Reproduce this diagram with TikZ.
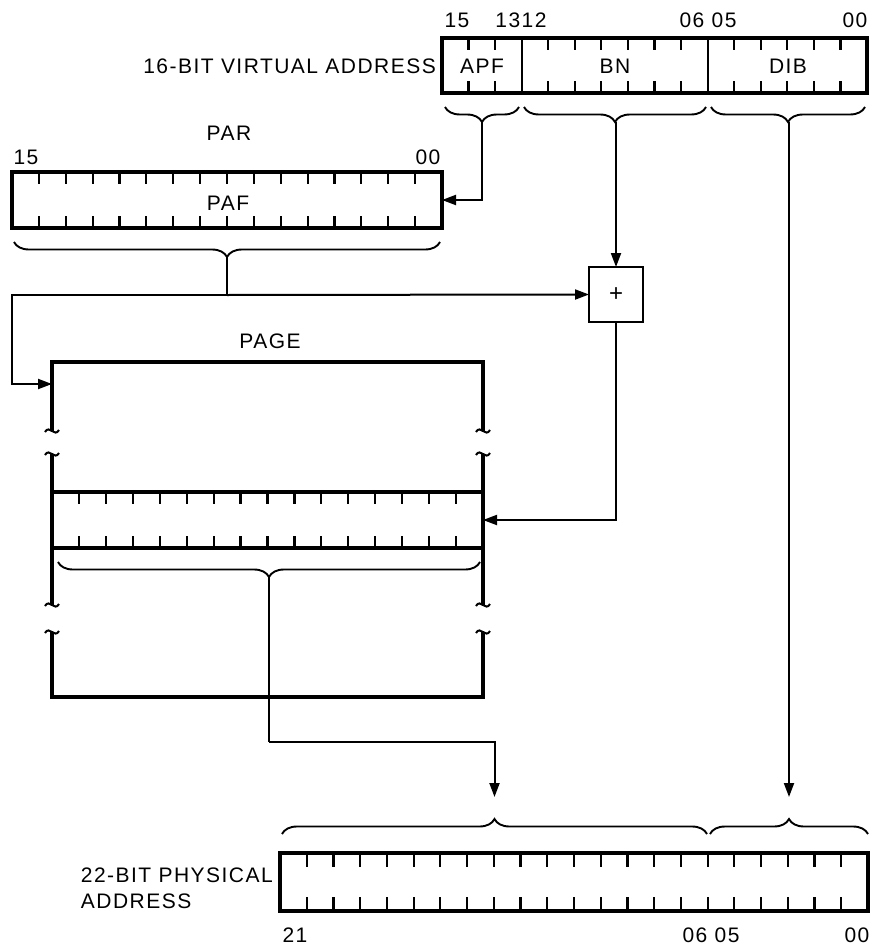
\documentclass[tikz,border=0pt]{standalone}
\usepackage{fontspec}
\setmainfont[LetterSpace=7]{Liberation Sans}
\usetikzlibrary{arrows.meta,decorations.pathreplacing,calc}
\begin{document}
\begin{tikzpicture}[x=1pt,y=1pt]
\tikzset{
 regbox/.style={draw, line width=3.2pt, inner sep=0pt, outer sep=0pt},
 tickln/.style={line width=2.2pt},
 pgline/.style={line width=3.2pt},
 conn/.style={line width=2pt},
 arr/.style={conn, -{Triangle[length=14pt,width=10pt]}},
 brc/.style={line width=1.9pt, decorate, decoration={brace, amplitude=15pt}},
 lbl/.style={font=\fontsize{21}{23}\selectfont, inner sep=0pt},
 tld/.style={line width=2pt},
}
\newcommand\mytilde[2]{\draw[tld] (#1-7,#2-1) .. controls (#1-2.5,#2+7) and (#1+2.5,#2-7) .. (#1+7,#2+1);}
\useasboundingbox (0,0) rectangle (877,-950);

% ---------- top register: 16-bit virtual address
\node[regbox, minimum width=425pt, minimum height=55pt] (va) at (654.5,-65.5) {};
\foreach \i in {1,...,15}{
  \ifnum\i=3\relax
    \draw[tickln] ($(va.north west)+(\i*26.5625,0)$) -- ($(va.south west)+(\i*26.5625,0)$);
  \else\ifnum\i=10\relax
    \draw[tickln] ($(va.north west)+(\i*26.5625,0)$) -- ($(va.south west)+(\i*26.5625,0)$);
  \else
    \draw[tickln] ($(va.north west)+(\i*26.5625,0)$) -- ++(0,-12);
    \draw[tickln] ($(va.south west)+(\i*26.5625,0)$) -- ++(0,12);
  \fi\fi
}
\node[lbl] (apf) at (482,-66) {APF};
\node[lbl] (bn) at (615,-66) {BN};
\node[lbl] (dib) at (788,-66) {DIB};
\node[lbl, anchor=east] (valbl) at (436,-66) {16-BIT VIRTUAL ADDRESS};
\node[lbl] (v15) at (457,-20) {15};
\node[lbl] (v1312) at (521,-20) {1312};
\node[lbl] (v0605) at (708,-20) {06 05};
\node[lbl] (v00) at (855,-20) {00};

% braces under virtual address
\draw[brc] (519,-107) -- (445,-107);
\draw[brc] (706,-107) -- (524,-107);
\draw[brc] (865,-107) -- (711,-107);
\coordinate (apftip) at (482,-122);
\coordinate (bntip) at (616,-122);
\coordinate (dibtip) at (789,-122);

% ---------- PAR
\node[regbox, minimum width=430pt, minimum height=56pt] (par) at (227,-200) {};
\foreach \i in {1,...,15}{
  \draw[tickln] ($(par.north west)+(\i*26.875,0)$) -- ++(0,-12);
  \draw[tickln] ($(par.south west)+(\i*26.875,0)$) -- ++(0,12);
}
\node[lbl] (paf) at (228,-203) {PAF};
\node[lbl] (parlbl) at (229,-133) {PAR};
\node[lbl] (p15) at (26,-157) {15};
\node[lbl] (p00) at (428,-157) {00};
\draw[brc] (440,-242) -- (14,-242);
\coordinate (partip) at (227,-257);

% ---------- adder
\node[regbox, line width=2.8pt, minimum width=54pt, minimum height=55pt] (plus) at (616,-294.5) {\fontsize{24}{24}\selectfont +};

% ---------- PAGE
\node[lbl] (pagelbl) at (270,-341) {PAGE};
\draw[pgline] (52,-431) -- (52,-362) -- (483,-362) -- (483,-431);
\draw[pgline] (52,-454) -- (52,-605);
\draw[pgline] (483,-454) -- (483,-605);
\draw[pgline] (52,-632) -- (52,-697) -- (483,-697) -- (483,-632);
\foreach \px/\py in {52/-431,483/-431,52/-454,483/-454,52/-605,483/-605,52/-632,483/-632}{
  \mytilde{\px}{\py}
}
\node[regbox, minimum width=431pt, minimum height=56pt] (row) at (267.5,-520) {};
\foreach \i in {1,...,15}{
  \draw[tickln] ($(row.north west)+(\i*26.9375,0)$) -- ++(0,-12);
  \draw[tickln] ($(row.south west)+(\i*26.9375,0)$) -- ++(0,12);
}
\draw[brc] (480,-562) -- (58,-562);
\coordinate (pgtip) at (269,-577);

% ---------- physical address
\node[regbox, minimum width=588pt, minimum height=58pt] (pa) at (574,-882) {};
\foreach \i in {1,...,21}{
  \draw[tickln] ($(pa.north west)+(\i*26.7273,0)$) -- ++(0,-14);
  \draw[tickln] ($(pa.south west)+(\i*26.7273,0)$) -- ++(0,14);
}
\node[lbl, anchor=east] (phys) at (273,-875) {22-BIT PHYSICAL};
\node[lbl, anchor=west] (addr) at (phys.west |- 0,-901) {ADDRESS};
\node[lbl] (b21) at (295,-935) {21};
\node[lbl] (b0605) at (711,-935) {06 05};
\node[lbl] (b00) at (857,-935) {00};
\draw[brc] (282,-834) -- (707,-834);
\draw[brc] (710,-834) -- (868,-834);
\coordinate (physL) at (494.5,-797);
\coordinate (physR) at (789,-797);

% ---------- connectors
\coordinate (junc) at (227,-295);
\coordinate (lft) at (12,-384);
\coordinate (pageL) at (52,-384);
\coordinate (bend) at (269,-742);
\draw[arr] (apftip) |- (par.east);
\draw[arr] (bntip) -- (plus.north);
\draw[arr] (dibtip) -- (physR);
\draw[conn] (partip) -- (junc);
\draw[arr] (junc) -- (plus.west);
\draw[arr] (junc) -| (lft) -- (pageL);
\draw[arr] (plus.south) |- (row.east);
\draw[conn] (pgtip) -- (bend);
\draw[arr] (bend) -| (physL);
\end{tikzpicture}
\end{document}
